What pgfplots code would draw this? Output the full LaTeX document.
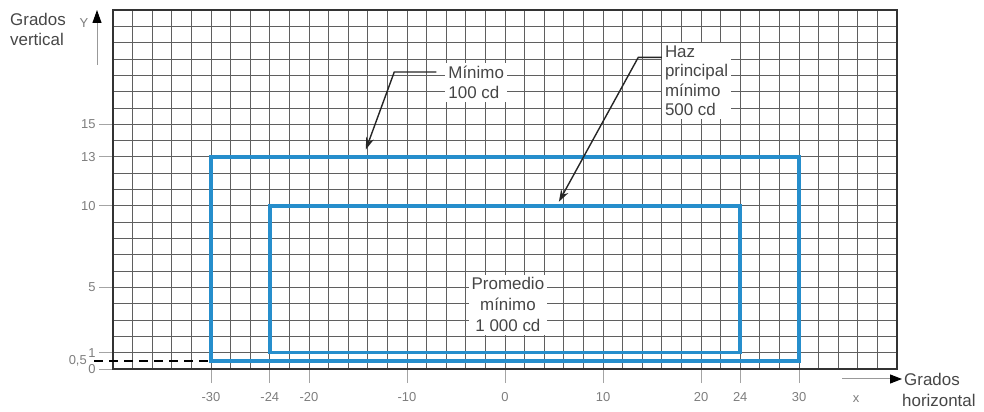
\documentclass[border=0pt]{standalone}
\usepackage{fontspec}
\setmainfont{Liberation Sans}
\usepackage{pgfplots}
\pgfplotsset{compat=1.18}
\usetikzlibrary{arrows.meta}
\definecolor{beam}{RGB}{38,142,204}
\definecolor{gridc}{RGB}{95,95,95}
\definecolor{lbl}{RGB}{70,70,70}
\definecolor{tickc}{RGB}{125,125,125}

\begin{document}
\begin{tikzpicture}
\useasboundingbox (0,0) rectangle (984bp,412bp);
\begin{axis}[
    at={(113bp,43bp)}, anchor=south west,
    scale only axis, width=784bp, height=359bp,
    xmin=-40, xmax=40, ymin=0, ymax=22,
    axis line style={black!80, line width=1.3bp},
    xtick={-30,-24,-20,-10,0,10,20,24,30},
    ytick={0,1,5,10,13,15},
    xtick pos=bottom, ytick pos=left,
    minor xtick={-40,-38,...,40},
    minor ytick={0,1,...,22},
    grid=minor,
    minor grid style={gridc, line width=0.8bp},
    minor tick length=0pt,
    major tick length=14bp,
    tick align=outside,
    tick style={tickc!70, line width=0.8bp},
    ticklabel style={tickc, font=\fontsize{13}{15}\selectfont},
    xticklabel style={yshift=-6bp},
    /pgf/number format/assume math mode=true,
    clip=false,
]
    % outer zone: minimum 100 cd
    \addplot[beam, line width=3.6bp, mark=none]
    coordinates {(-30,0.5) (30,0.5) (30,13) (-30,13)} -- cycle;
    % inner zone: main beam
    \addplot[beam, line width=3.6bp, mark=none]
    coordinates {(-24,1) (24,1) (24,10) (-24,10)} -- cycle;
    % 0,5 guide
    \addplot[black, line width=1.5bp, dash pattern=on 9bp off 6bp, mark=none]
    coordinates {(-41.9,0.5) (-30,0.5)};
    \node[anchor=east, inner sep=0pt, text=tickc, font=\fontsize{13}{15}\selectfont,
          xshift=-26bp] at (axis cs:-40,0.5) {0,5};

    \draw[black!85, line width=1.4bp, -{Stealth[length=12bp,width=8bp]}]
        (axis cs:-7.0,18.2) -- (axis cs:-11.3,18.2) -- (axis cs:-14.2,13.45);
    \draw[black!85, line width=1.4bp, -{Stealth[length=12bp,width=8bp]}]
        (axis cs:16.2,19.1) -- (axis cs:13.6,19.1) -- (axis cs:5.5,10.25);

    \node[anchor=north west, fill=white, inner sep=3bp, align=left, text=lbl,
          font=\fontsize{17}{20}\selectfont] at (axis cs:-6.1,18.75) {Mínimo\\100 cd};
    \node[anchor=north west, fill=white, inner sep=3bp, align=left, text=lbl,
          font=\fontsize{17}{19.5}\selectfont] at (axis cs:16.0,20.0) {Haz\\principal\\mínimo\\500 cd};
    \node[anchor=north, fill=white, inner sep=3bp, align=center, text=lbl,
          font=\fontsize{17}{21}\selectfont] at (axis cs:0.3,5.8) {Promedio\\mínimo\\1 000 cd};
\end{axis}
% axis titles and arrows
\node[anchor=north west, inner sep=0pt, align=left, text=lbl,
      font=\fontsize{17}{20}\selectfont] at (10bp,399bp) {Grados\\vertical};
\node[text=tickc, font=\fontsize{13}{15}\selectfont, inner sep=0pt] at (84bp,389bp) {Y};
\draw[gray!80, line width=1bp, -{Triangle[black, length=13bp, width=9bp]}]
    (97bp,347bp) -- (97bp,402bp);
\draw[gray!80, line width=1bp, -{Triangle[black, length=12bp, width=9bp]}]
    (842bp,33bp) -- (902bp,33bp);
\node[text=tickc, font=\fontsize{13}{15}\selectfont, inner sep=0pt] at (856bp,13bp) {x};
\node[anchor=base west, inner sep=0pt, text=lbl, font=\fontsize{17}{20}\selectfont]
    at (904bp,27bp) {Grados};
\node[anchor=base west, inner sep=0pt, text=lbl, font=\fontsize{17}{20}\selectfont]
    at (902bp,6bp) {horizontal};
\end{tikzpicture}
\end{document}
